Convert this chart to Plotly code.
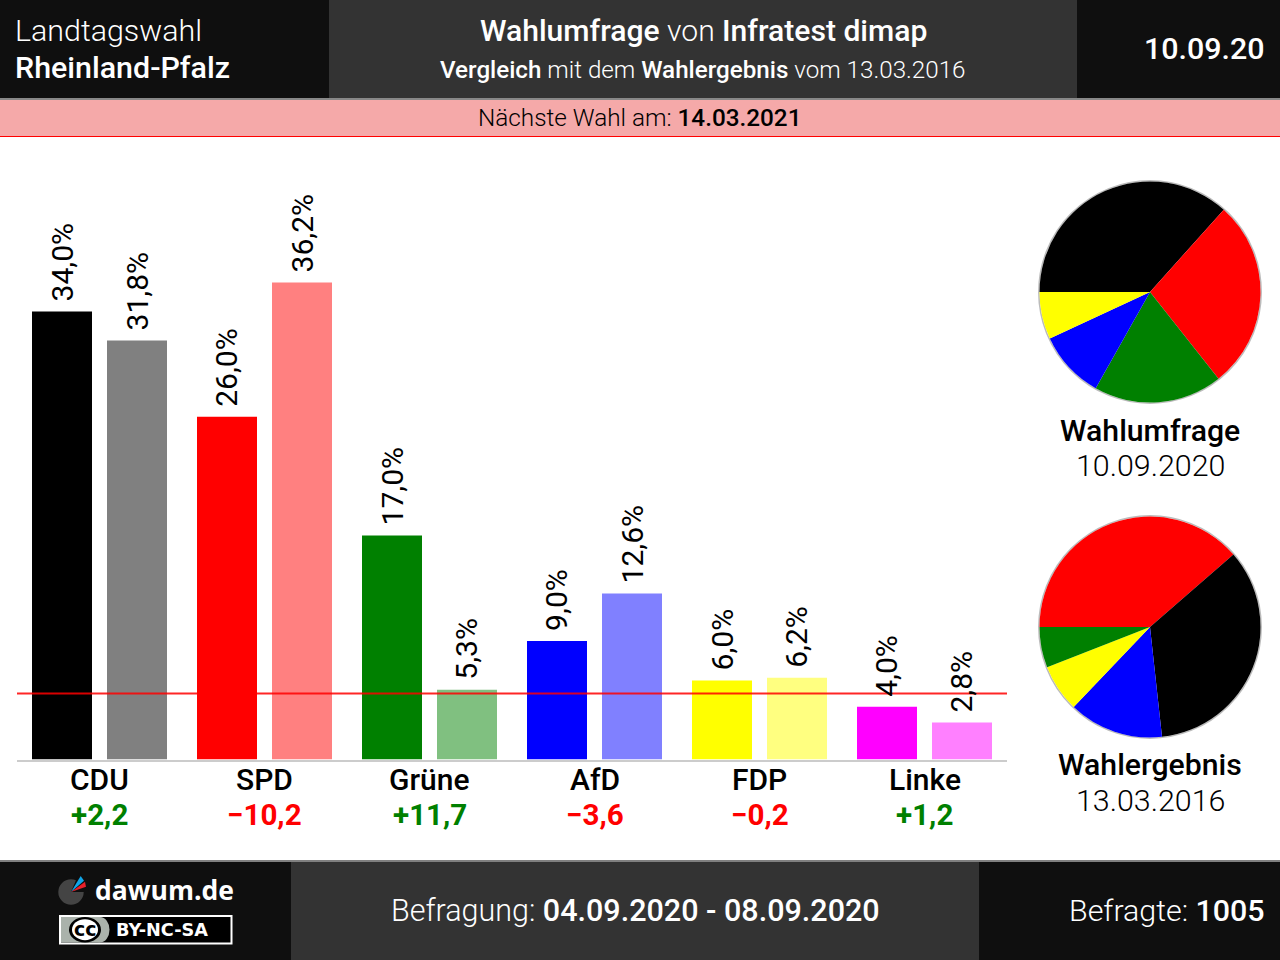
import plotly.graph_objects as go

W, H = 1280, 960
parties = ["CDU", "SPD", "Grüne", "AfD", "FDP", "Linke"]
poll = [34.0, 26.0, 17.0, 9.0, 6.0, 4.0]
result = [31.8, 36.2, 5.3, 12.6, 6.2, 2.8]
poll_labels = ["34,0%", "26,0%", "17,0%", "9,0%", "6,0%", "4,0%"]
result_labels = ["31,8%", "36,2%", "5,3%", "12,6%", "6,2%", "2,8%"]
deltas = ["+2,2", "−10,2", "+11,7", "−3,6", "−0,2", "+1,2"]
delta_colors = ["#008000", "#ff0000", "#008000", "#ff0000", "#ff0000", "#008000"]
poll_colors = ["#000000", "#ff0000", "#008000", "#0000ff", "#ffff00", "#ff00ff"]
result_colors = ["#808080", "#ff8080", "#80c080", "#8080ff", "#ffff80", "#ff80ff"]
threshold = 5

# pies show the seat distribution (101 seats)
pie1_labels = ["CDU", "SPD", "Grüne", "AfD", "FDP"]
pie1_values = [37, 28, 19, 10, 7]
pie1_colors = ["#000000", "#ff0000", "#008000", "#0000ff", "#ffff00"]
pie2_labels = ["SPD", "CDU", "AfD", "FDP", "Grüne"]
pie2_values = [39, 35, 14, 7, 6]
pie2_colors = ["#ff0000", "#000000", "#0000ff", "#ffff00", "#008000"]

FONT = "Roboto"
BIG = 30.4
SMALL = 24.3


def X(x):
    return x / W


def Y(y):
    return 1 - y / H


def rect(x0, y0, x1, y1, color):
    return dict(type="rect", xref="paper", yref="paper", x0=X(x0), x1=X(x1), y0=Y(y0), y1=Y(y1),
                fillcolor=color, line=dict(width=0), layer="below")


def circle(cx, cy, rx, color, ry=None, line=None):
    ry = rx if ry is None else ry
    return dict(type="circle", xref="paper", yref="paper", x0=X(cx - rx), x1=X(cx + rx),
                y0=Y(cy + ry), y1=Y(cy - ry), fillcolor=color,
                line=line or dict(width=0), layer="below")


def poly(points, color):
    d = "M " + " L ".join(f"{X(a):.5f} {Y(b):.5f}" for a, b in points) + " Z"
    return dict(type="path", xref="paper", yref="paper", path=d, fillcolor=color,
                line=dict(width=0), layer="below")


def text(x, y, s, size, color="#ffffff", anchor="center", weight=None, family=FONT):
    f = dict(family=family, size=size, color=color)
    if weight:
        f["weight"] = weight
    pad = {"left": -2, "right": 2, "center": 0}[anchor]
    return dict(xref="paper", yref="paper", x=X(x + pad), y=Y(y), text=s, showarrow=False,
                xanchor=anchor, yanchor="middle", font=f, align=anchor)


def b(s):
    return f'<span style="font-weight:500">{s}</span>'


shapes = [
    rect(0, 0, 1280, 98, "#0f0f0f"),
    rect(329, 0, 1077, 98, "#333333"),
    rect(0, 98, 1280, 100, "#888888"),
    rect(0, 100, 1280, 136, "#f5a9a9"),
    rect(0, 136, 1280, 137, "#ff0000"),
    rect(0, 860, 1280, 862, "#808080"),
    rect(0, 862, 1280, 960, "#0f0f0f"),
    rect(291, 862, 979, 960, "#333333"),
    # logo
    circle(71, 892, 12.7, "#444444"),
    poly([(71, 892), (79, 873), (90, 878), (88, 892)], "#0f0f0f"),
    poly([(71, 892), (80.7, 876), (84, 880.7)], "#10a5e8"),
    poly([(71, 892), (85, 881.7), (86, 886.7)], "#e8202a"),
    # licence badge
    rect(59, 915, 232.5, 944.5, "#ffffff"),
    rect(61, 917, 230.5, 942.5, "#000000"),
    rect(61, 917, 100, 942.5, "#aab2ab"),
    circle(100, 929.7, 9.5, "#aab2ab", ry=12.8),
    circle(85, 929.7, 16, "#000000", ry=12.8),
    circle(85, 929.7, 13, "#ffffff", ry=10.5),
    # pie rims
    circle(1150, 292, 111.2, "#ffffff", line=dict(color="#bbbbbb", width=1.5)),
    circle(1150, 627, 111.2, "#ffffff", line=dict(color="#bbbbbb", width=1.5)),
    # 5 % threshold
    dict(type="line", xref="x domain", yref="y", x0=0, x1=1, y0=threshold, y1=threshold,
         line=dict(color="rgba(255,0,0,0.85)", width=2), layer="above"),
]

annotations = [
    text(15, 30.3, "Landtagswahl", BIG, anchor="left", weight=300),
    text(15, 68, b("Rheinland-Pfalz"), BIG, anchor="left"),
    text(703, 30.3, f'{b("Wahlumfrage")} von {b("Infratest dimap")}', 30.1, weight=300),
    text(703, 70, f'{b("Vergleich")} mit dem {b("Wahlergebnis")} vom 13.03.2016', 24.2, weight=300),
    text(1265, 49, b("10.09.20"), BIG, anchor="right"),
    text(640, 117.3, f'Nächste Wahl am: {b("14.03.2021")}', SMALL, color="#000000", weight=300),
    text(1150, 430.3, b("Wahlumfrage"), 30.2, color="#000000"),
    text(1150, 466, "10.09.2020", BIG, color="#000000", weight=300),
    text(1150, 764.3, b("Wahlergebnis"), 30.2, color="#000000"),
    text(1150, 800.5, "13.03.2016", BIG, color="#000000", weight=300),
    text(635, 910.3, f'Befragung: {b("04.09.2020 - 08.09.2020")}', 30.5, weight=300),
    text(1265, 910.3, f'Befragte: {b("1005")}', BIG, anchor="right", weight=300),
    text(164.5, 889.5, "<b>dawum.de</b>", 26.5, family="Open Sans"),
    text(162, 930, "<b>BY-NC-SA</b>", 17.7, family="DejaVu Sans"),
    text(85, 929, "<b>cc</b>", 19, color="#000000", family="DejaVu Sans"),
]

for values, labels, shift in ((poll, poll_labels, -37.5), (result, result_labels, 37.5)):
    for party, v, lab in zip(parties, values, labels):
        annotations.append(dict(x=party, y=v, xref="x", yref="y", text=lab, textangle=-90,
                                showarrow=False, xshift=shift, yshift=8, yanchor="bottom",
                                xanchor="center", font=dict(family=FONT, size=30, color="#000000",
                                                            weight=400)))

for party, delta, color in zip(parties, deltas, delta_colors):
    annotations.append(dict(x=party, xref="x", y=Y(779), yref="paper", text=party, showarrow=False,
                            yanchor="middle", font=dict(family=FONT, size=30, color="#000000", weight=500)))
    annotations.append(dict(x=party, xref="x", y=Y(814.7), yref="paper", text=delta, showarrow=False,
                            yanchor="middle", font=dict(family=FONT, size=29.6, color=color, weight=700)))

fig = go.Figure()
fig.add_bar(x=parties, y=poll, marker=dict(color=poll_colors, line=dict(width=0)), name="Wahlumfrage")
fig.add_bar(x=parties, y=result, marker=dict(color=result_colors, line=dict(width=0)), name="Wahlergebnis")
r = 110.5
fig.add_pie(labels=pie1_labels, values=pie1_values, sort=False, direction="clockwise", rotation=270,
            marker=dict(colors=pie1_colors, line=dict(width=0)), textinfo="none", hoverinfo="skip",
            domain=dict(x=[X(1150 - r), X(1150 + r)], y=[Y(292 + r), Y(292 - r)]))
fig.add_pie(labels=pie2_labels, values=pie2_values, sort=False, direction="clockwise", rotation=270,
            marker=dict(colors=pie2_colors, line=dict(width=0)), textinfo="none", hoverinfo="skip",
            domain=dict(x=[X(1150 - r), X(1150 + r)], y=[Y(627 + r), Y(627 - r)]))

BASE = 759.5
PX_PER_UNIT = 13.18
fig.update_layout(
    width=W, height=H, margin=dict(l=0, r=0, t=0, b=0), paper_bgcolor="#ffffff", plot_bgcolor="#ffffff",
    showlegend=False, barmode="group", bargap=15 / 165, bargroupgap=0.2,
    shapes=shapes, annotations=annotations, font=dict(family=FONT),
    xaxis=dict(domain=[X(17), X(1007)], type="category", categoryorder="array", categoryarray=parties,
               showticklabels=False, showline=True, linecolor="#cccccc", linewidth=2, ticks="",
               showgrid=False, zeroline=False, fixedrange=True),
    yaxis=dict(domain=[Y(BASE), Y(BASE - 45 * PX_PER_UNIT)], range=[0, 45], visible=False, showgrid=False,
               zeroline=False, fixedrange=True),
)
fig.write_html("out.html", config=dict(displayModeBar=False),
               post_script="document.body.style.margin='0';document.body.style.overflow='hidden';")
